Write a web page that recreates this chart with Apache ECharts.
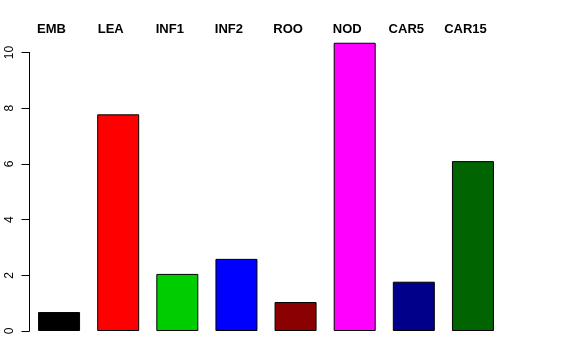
<!DOCTYPE html>
<html><head><meta charset="utf-8">
<script src="https://cdn.jsdelivr.net/npm/echarts@6/dist/echarts.min.js"></script>
<style>html,body{margin:0;padding:0;background:#fff}#c{width:576px;height:360px}</style>
</head><body><div id="c"></div>
<script>
var categories = ['EMB','LEA','INF1','INF2','ROO','NOD','CAR5','CAR15'];
var values = [0.68, 7.78, 2.05, 2.59, 1.04, 10.35, 1.77, 6.10];
var colors = ['#000000','#FF0000','#00CD00','#0000FF','#8B0000','#FF00FF','#00008B','#006400'];
var yTicks = [0, 2, 4, 6, 8, 10];

var chart = echarts.init(document.getElementById('c'), null, {renderer:'canvas'});
chart.setOption({
  animation: false,
  backgroundColor: '#fff',
  grid: {left: 29.5, right: 73.5, top: 52.5, bottom: 29, containLabel: false},
  xAxis: {
    type: 'category', data: categories, position: 'top',
    axisLine: {show: false}, axisTick: {show: false}, splitLine: {show: false},
    axisLabel: {fontFamily: 'Liberation Sans, Arial, sans-serif', fontWeight: 'bold', fontSize: 13, color: '#000', margin: 17, padding: [0, 15, 0, 0], interval: 0}
  },
  yAxis: {
    type: 'value', min: yTicks[0], max: yTicks[yTicks.length-1], interval: 2,
    axisLine: {show: true, lineStyle: {color: '#000', width: 1}},
    axisTick: {show: true, length: 8, lineStyle: {color: '#000'}},
    splitLine: {show: false},
    axisLabel: {rotate: 90, fontFamily: 'Liberation Sans, Arial, sans-serif', fontSize: 12, color: '#000', margin: 14}
  },
  series: [{
    type: 'bar', clip: false, barWidth: 42,
    data: values.map(function(v, i){ return {value: v, itemStyle: {color: colors[i]}}; }),
    itemStyle: {borderColor: '#000', borderWidth: 1}
  }]
});
</script></body></html>
